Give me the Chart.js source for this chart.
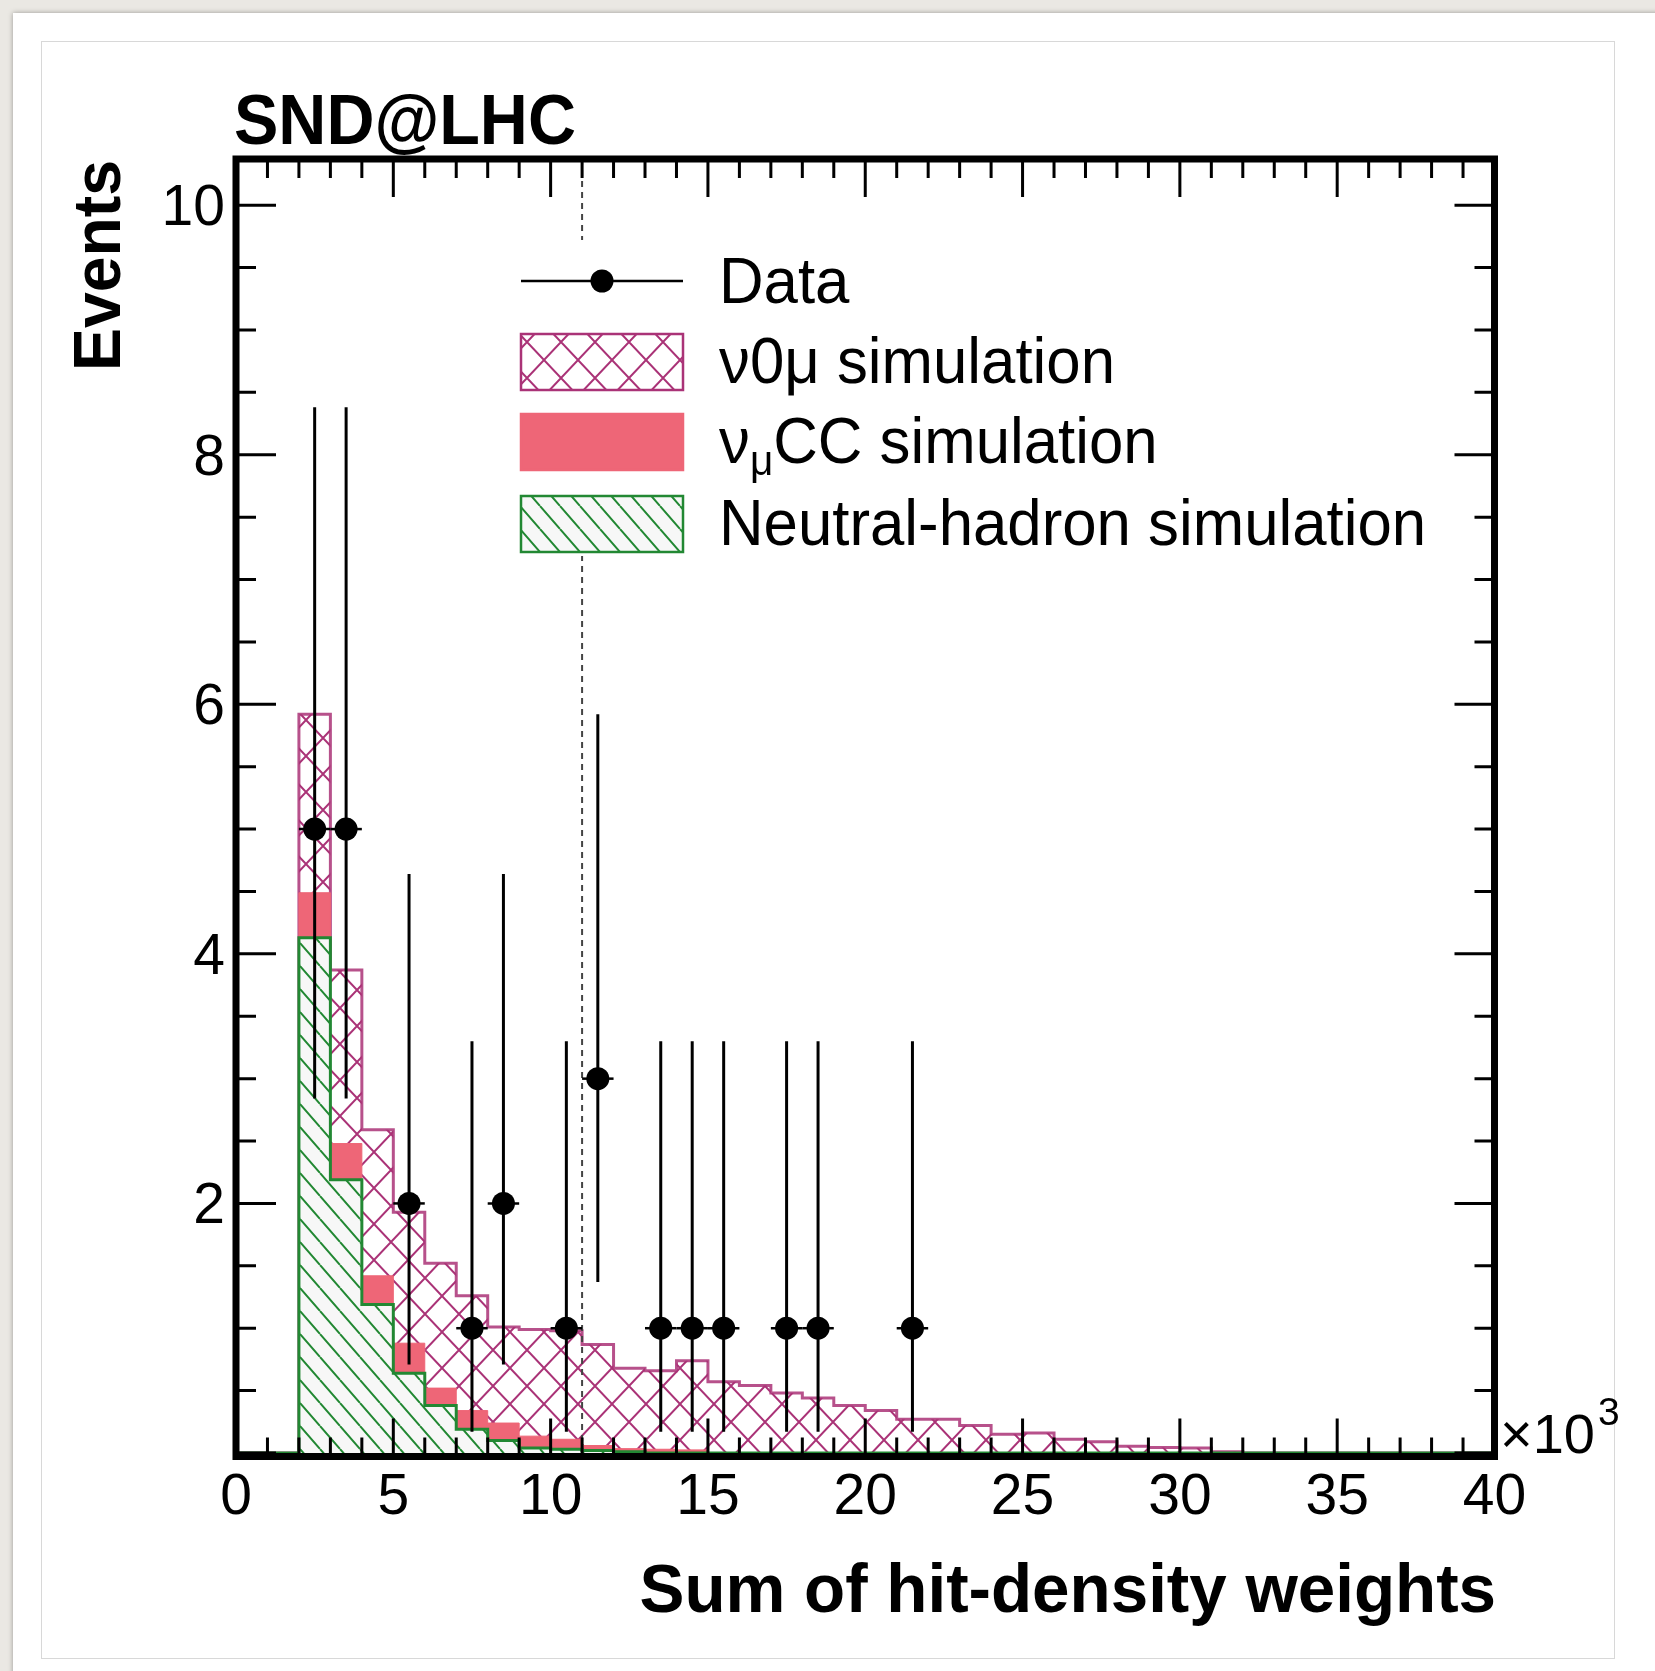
<!DOCTYPE html>
<html>
<head>
<meta charset="utf-8">
<script src="https://cdn.jsdelivr.net/npm/chart.js@4.4.1/dist/chart.umd.min.js"></script>
<style>
	body { margin: 0; background: #eae8e3; overflow: hidden; }
	#card { position: absolute; left: 13px; top: 13px; width: 1700px; height: 1700px; background: #fff; box-shadow: 0 0 5px rgba(0,0,0,0.35); }
	#frame { position: absolute; left: 41px; top: 41px; width: 1572px; height: 1616px; border: 1px solid #d8d8d8; }
	#c { position: absolute; left: 0; top: 0; }
</style>
</head>
<body>
<div id="card"></div>
<div id="frame"></div>
<canvas id="c" width="1655" height="1671"></canvas>
<script>
// bins of the sum of hit-density weights (x10^3)
const binEdges = [0, 1, 2, 3, 4, 5, 6, 7, 8, 9, 10, 11, 12, 13, 14, 15, 16, 17, 18, 19, 20,
	21, 22, 23, 24, 25, 26, 27, 28, 29, 30, 31, 32, 33, 34, 35, 36, 37, 38, 39, 40];

// simulated events per bin (stacked: neutral hadron, numu CC, nu0mu)
const nhSim = [0, 0, 4.13, 2.19, 1.19, 0.64, 0.38, 0.19, 0.10, 0.04, 0.03, 0.02, 0.01, 0, 0, 0, 0, 0, 0, 0,
	0, 0, 0, 0, 0, 0, 0, 0, 0, 0, 0, 0, 0, 0, 0, 0, 0, 0, 0, 0];
const ccSim = [0, 0, 0.36, 0.29, 0.23, 0.24, 0.14, 0.15, 0.14, 0.095, 0.08, 0.04, 0.025, 0.03, 0.025, 0, 0, 0, 0, 0,
	0, 0, 0, 0, 0, 0, 0, 0, 0, 0, 0, 0, 0, 0, 0, 0, 0, 0, 0, 0];
const v0muSim = [0, 0, 1.43, 1.39, 1.17, 1.05, 1.00, 0.92, 0.77, 0.855, 0.87, 0.81, 0.645, 0.63, 0.715, 0.57, 0.54, 0.48, 0.44, 0.38,
	0.34, 0.27, 0.27, 0.22, 0.15, 0.16, 0.11, 0.09, 0.055, 0.045, 0.04, 0.01, 0, 0, 0, 0, 0, 0, 0, 0];

// data points with poisson errors
const dataX = [2.5, 3.5, 5.5, 7.5, 8.5, 10.5, 11.5, 13.5, 14.5, 15.5, 17.5, 18.5, 21.5];
const dataY = [5, 5, 2, 1, 2, 1, 3, 1, 1, 1, 1, 1, 1];
const dataLow = [2.84, 2.84, 0.71, 0.17, 0.71, 0.17, 1.37, 0.17, 0.17, 0.17, 0.17, 0.17, 0.17];
const dataHigh = [8.38, 8.38, 4.64, 3.30, 4.64, 3.30, 5.92, 3.30, 3.30, 3.30, 3.30, 3.30, 3.30];
const cutValue = 11;

// axis ticks
const xMajorTicks = [0, 5, 10, 15, 20, 25, 30, 35, 40];
const xTickLabels = ['0', '5', '10', '15', '20', '25', '30', '35', '40'];
const yMajorTicks = [2, 4, 6, 8, 10];
const yTickLabels = ['2', '4', '6', '8', '10'];

const legendLabels = ['Data', 'ν0μ simulation', 'νμCC simulation', 'Neutral-hadron simulation'];

const PINK = '#aa3377';
const RED = '#ee6677';
const GREEN = '#228833';
const FONT = '"Liberation Sans", Arial, Helvetica, sans-serif';

// hatch tile, lines go corner to corner
function hatch(bg, color, w, h, lw, cross) {
	var c = document.createElement('canvas');
	c.width = w; c.height = h;
	var g = c.getContext('2d');
	g.fillStyle = bg;
	g.fillRect(0, 0, w, h);
	g.strokeStyle = color;
	g.lineWidth = lw;
	g.beginPath();
	for (var k = -1; k <= 1; k++) {
		g.moveTo(k * w, 0); g.lineTo(k * w + w, h);
		if (cross) { g.moveTo(k * w, h); g.lineTo(k * w + w, 0); }
	}
	g.stroke();
	return g.createPattern(c, 'repeat');
}

const pinkHatch = hatch('#ffffff', PINK, 34, 36, 2, true);
const greenHatch = hatch('#f7f7f7', GREEN, 20, 23, 2, false);

// histogram points from the bin edges (stepped line)
function histPoints(vals) {
	var pts = [];
	for (var i = 0; i < vals.length; i++) pts.push({ x: binEdges[i], y: vals[i] });
	pts.push({ x: binEdges[vals.length], y: vals[vals.length - 1] });
	return pts;
}

const ccStack = nhSim.map((v, i) => v + ccSim[i]);
const totStack = ccStack.map((v, i) => v + v0muSim[i]);

function text(ctx, str, x, y, font, align, sx) {
	ctx.save();
	ctx.font = font;
	ctx.textAlign = align || 'left';
	ctx.textBaseline = 'alphabetic';
	ctx.translate(x, y);
	ctx.scale(sx || 1, 1);
	ctx.fillText(str, 0, 0);
	ctx.restore();
}

const rootStyle = {
	id: 'rootStyle',
	beforeDatasetDraw(chart, args) {
		if (args.index !== 0) return;
		var ctx = chart.ctx, xs = chart.scales.x, ys = chart.scales.y, a = chart.chartArea;
		ctx.save();
		// cut line
		ctx.strokeStyle = '#444';
		ctx.lineWidth = 2;
		ctx.setLineDash([6, 5]);
		ctx.beginPath();
		ctx.moveTo(xs.getPixelForValue(cutValue), a.top);
		ctx.lineTo(xs.getPixelForValue(cutValue), a.bottom);
		ctx.stroke();
		ctx.setLineDash([]);
		// error bars
		ctx.strokeStyle = '#000';
		for (var i = 0; i < dataX.length; i++) {
			var px = xs.getPixelForValue(dataX[i]);
			var py = ys.getPixelForValue(dataY[i]);
			ctx.lineWidth = 3;
			ctx.beginPath();
			ctx.moveTo(px, ys.getPixelForValue(dataLow[i]));
			ctx.lineTo(px, ys.getPixelForValue(dataHigh[i]));
			ctx.stroke();
			ctx.lineWidth = 2.5;
			ctx.beginPath();
			ctx.moveTo(xs.getPixelForValue(dataX[i] - 0.5), py);
			ctx.lineTo(xs.getPixelForValue(dataX[i] + 0.5), py);
			ctx.stroke();
		}
		ctx.restore();
	},
	afterDraw(chart) {
		var ctx = chart.ctx, xs = chart.scales.x, ys = chart.scales.y, a = chart.chartArea;
		ctx.save();

		// legend
		ctx.fillStyle = '#fff';
		ctx.fillRect(505, 240, 940, 316);
		var bx = 521, bw = 162, rows = [281, 362, 442, 524];
		ctx.strokeStyle = '#000';
		ctx.lineWidth = 2.5;
		ctx.beginPath();
		ctx.moveTo(bx, rows[0]); ctx.lineTo(bx + bw, rows[0]);
		ctx.stroke();
		ctx.fillStyle = '#000';
		ctx.beginPath();
		ctx.arc(bx + bw / 2, rows[0], 11.5, 0, Math.PI * 2);
		ctx.fill();
		var boxes = [[pinkHatch, PINK], [RED, RED], [greenHatch, GREEN]];
		boxes.forEach((b, k) => {
			var y = rows[k + 1] - 28;
			ctx.fillStyle = b[0];
			ctx.fillRect(bx, y, bw, 56);
			ctx.strokeStyle = b[1];
			ctx.lineWidth = 2.5;
			ctx.strokeRect(bx, y, bw, 56);
		});
		ctx.fillStyle = '#000';
		var lf = '64px ' + FONT, tx = 719, sx = 0.965;
		text(ctx, legendLabels[0], tx, rows[0] + 22, lf, 'left', sx);
		text(ctx, legendLabels[1], tx, rows[1] + 21, lf, 'left', sx);
		// nu_mu CC with subscript
		ctx.font = lf;
		var nuW = ctx.measureText('ν').width * sx;
		text(ctx, 'ν', tx, rows[2] + 21, lf, 'left', sx);
		text(ctx, 'μ', tx + nuW, rows[2] + 33, '42px ' + FONT, 'left', sx);
		ctx.font = '42px ' + FONT;
		var muW = ctx.measureText('μ').width * sx;
		text(ctx, 'CC simulation', tx + nuW + muW, rows[2] + 21, lf, 'left', sx);
		text(ctx, legendLabels[3], tx, rows[3] + 21, lf, 'left', sx);

		// frame sits just outside the zero line at the bottom
		var fb = a.bottom + 3.5;
		ctx.strokeStyle = '#000';
		ctx.lineWidth = 3;
		ctx.beginPath();
		for (var v = 0; v <= 40; v++) {
			var px = xs.getPixelForValue(v);
			var len = v % 5 === 0 ? 38 : 19;
			ctx.moveTo(px, fb); ctx.lineTo(px, fb - len);
			ctx.moveTo(px, a.top); ctx.lineTo(px, a.top + len);
		}
		for (var w = 0; w <= 10; w += 0.5) {
			var py = ys.getPixelForValue(w);
			var l2 = w % 2 === 0 ? 40 : 20;
			ctx.moveTo(a.left, py); ctx.lineTo(a.left + l2, py);
			ctx.moveTo(a.right, py); ctx.lineTo(a.right - l2, py);
		}
		ctx.stroke();

		ctx.lineWidth = 7;
		ctx.strokeRect(a.left, a.top, a.right - a.left, fb - a.top);

		// tick labels
		ctx.fillStyle = '#000';
		var tf = '57px ' + FONT;
		xMajorTicks.forEach((v, i) => text(ctx, xTickLabels[i], xs.getPixelForValue(v), 1514, tf, 'center'));
		yMajorTicks.forEach((v, i) => text(ctx, yTickLabels[i], 225, ys.getPixelForValue(v) + 20, tf, 'right'));
		text(ctx, '×10', 1500, 1453, '56px ' + FONT, 'left');
		text(ctx, '3', 1598, 1425, '39px ' + FONT, 'left');

		// titles
		text(ctx, 'SND@LHC', 234, 144, 'bold 70px ' + FONT, 'left', 0.95);
		text(ctx, 'Sum of hit-density weights', 1496, 1612, 'bold 68px ' + FONT, 'right', 0.99);
		ctx.save();
		ctx.translate(120, 160);
		ctx.rotate(-Math.PI / 2);
		text(ctx, 'Events', 0, 0, 'bold 67px ' + FONT, 'right', 0.96);
		ctx.restore();

		ctx.restore();
	}
};

var ctx = document.getElementById('c').getContext('2d');
var chart = new Chart(ctx, {
	type: 'line',
	data: {
		datasets: [
			{
				label: legendLabels[0],
				data: dataX.map((x, i) => ({ x: x, y: dataY[i] })),
				showLine: false,
				pointRadius: 11.5,
				pointHoverRadius: 11.5,
				pointBackgroundColor: '#000',
				pointBorderWidth: 0,
			},
			{
				label: legendLabels[3],
				data: histPoints(nhSim),
				stepped: true,
				fill: 'origin',
				backgroundColor: greenHatch,
				borderColor: GREEN,
				borderWidth: 3,
				pointRadius: 0,
			},
			{
				label: legendLabels[2],
				data: histPoints(ccStack),
				stepped: true,
				fill: 'origin',
				backgroundColor: RED,
				borderColor: RED,
				borderWidth: 1,
				pointRadius: 0,
			},
			{
				label: legendLabels[1],
				data: histPoints(totStack),
				stepped: true,
				fill: 'origin',
				backgroundColor: pinkHatch,
				borderColor: 'rgba(170,51,119,0.85)',
				borderWidth: 3,
				pointRadius: 0,
			}
		]
	},
	options: {
		responsive: false,
		animation: false,
		devicePixelRatio: 1,
		layout: { padding: { left: 236, right: 160.5, top: 159, bottom: 218 } },
		scales: {
			x: { type: 'linear', min: 0, max: 40, display: false },
			y: { type: 'linear', min: 0, max: 10.37, display: false }
		},
		plugins: { legend: { display: false }, tooltip: { enabled: false } }
	},
	plugins: [rootStyle]
});
</script>
</body>
</html>
